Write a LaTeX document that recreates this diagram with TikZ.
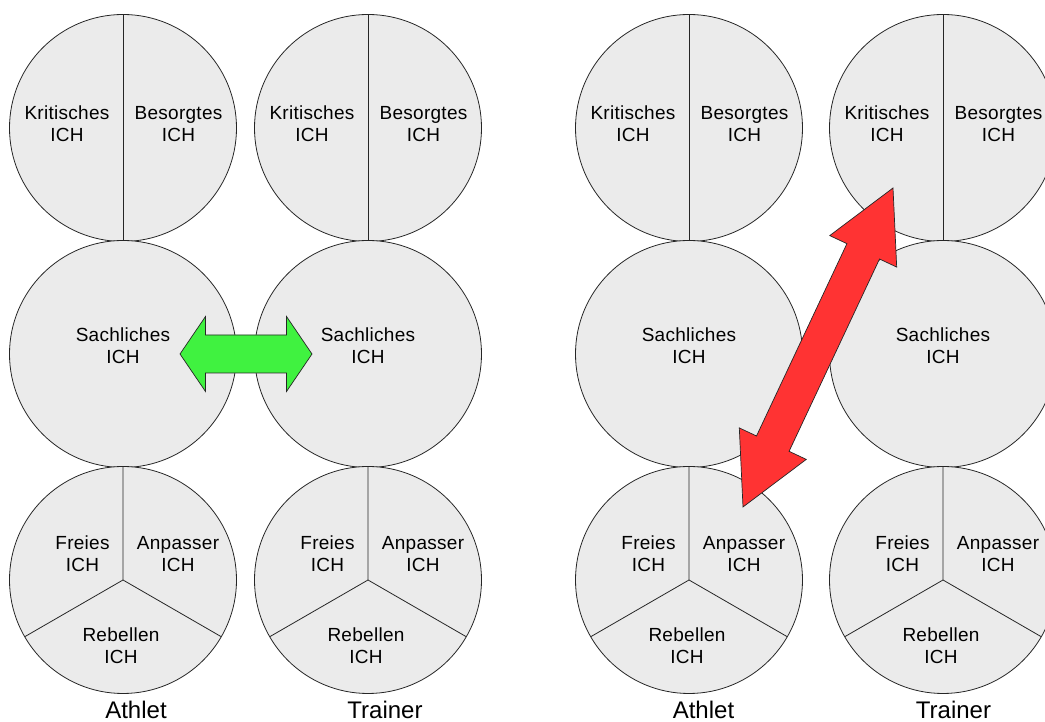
\documentclass[tikz,border=0pt]{standalone}
\usepackage{fontspec}
\setmainfont{Liberation Sans}
\usetikzlibrary{calc}
\definecolor{circfill}{RGB}{235,235,235}
\definecolor{greenarrow}{RGB}{64,242,64}
\definecolor{redarrow}{RGB}{255,51,51}
\newcommand{\blockarr}[6]{%
  \coordinate (ba-p) at ($(#2)!#4!(#3)$);
  \coordinate (ba-q) at ($(#3)!#4!(#2)$);
  \filldraw[#1] (#2) -- ($(ba-p)!#5!90:(#3)$) -- ($(ba-p)!#6!90:(#3)$)
    -- ($(ba-q)!#6!-90:(#2)$) -- ($(ba-q)!#5!-90:(#2)$) -- (#3)
    -- ($(ba-q)!#5!90:(#2)$) -- ($(ba-q)!#6!90:(#2)$)
    -- ($(ba-p)!#6!-90:(#3)$) -- ($(ba-p)!#5!-90:(#3)$) -- cycle;}
\begin{document}
\begin{tikzpicture}[x=1pt,y=1pt,
  ego/.style={circle, draw=black!85, line width=0.8pt, fill=circfill, minimum size=227pt, inner sep=0pt, outer sep=0pt},
  part/.style={draw=black!85, line width=0.8pt},
  lbl/.style={font=\fontsize{19}{22}\selectfont\addfontfeatures{LetterSpace=1.5}, align=center, inner sep=0pt, anchor=north},
  captxt/.style={font=\fontsize{24}{28}\selectfont, inner sep=0pt, anchor=base},
  blockarrow/.style={draw=black!85, line width=0.7pt, line join=miter}
]
\useasboundingbox (0,0) rectangle (1045,722);
\clip (0,0) rectangle (1045,722);

\foreach \cx/\n in {123/a, 368/b, 689/c, 943/d} {
  \node[ego] (\n T) at (\cx,594) {};
  \node[ego] (\n M) at (\cx,368) {};
  \node[ego] (\n B) at (\cx,142) {};
  \draw[part] (\n T.north) -- (\n T.south);
  \draw[part] (\n B.north) -- (\n B.center) -- (\n B.210);
  \draw[part] (\n B.center) -- (\n B.330);
  \node[lbl] (\n Tk) at ($(\n T.center)+(-56,22)$) {Kritisches\\ICH};
  \node[lbl] (\n Tb) at ($(\n T.center)+(55.5,22)$) {Besorgtes\\ICH};
  \node[lbl] (\n Ms) at ($(\n M.center)+(0,26)$) {Sachliches\\ICH};
  \node[lbl] (\n Bf) at ($(\n B.center)+(-40.5,44)$) {Freies\\ICH};
  \node[lbl] (\n Ba) at ($(\n B.center)+(55,44)$) {Anpasser\\ICH};
  \node[lbl] (\n Br) at ($(\n B.center)+(-2,-48)$) {Rebellen\\ICH};
}

\node[captxt] (capA1) at ($(aB.center)+(13,-139)$) {Athlet};
\node[captxt] (capT1) at ($(bB.center)+(17,-139)$) {Trainer};
\node[captxt] (capA2) at ($(cB.center)+(14.5,-139)$) {Athlet};
\node[captxt] (capT2) at ($(dB.center)+(10.5,-139)$) {Trainer};

% green double arrow between the two Sachliches ICH
\coordinate (g1) at ($(aM.center)+(57,0)$);
\coordinate (g2) at ($(bM.center)+(-56,0)$);
\blockarr{blockarrow, fill=greenarrow}{g1}{g2}{25.5pt}{37.5pt}{19pt}

% red double arrow between Athlet Anpasser ICH and Trainer Kritisches ICH
\coordinate (r1) at ($(cB.center)+(54,73)$);
\coordinate (r2) at ($(dT.center)+(-50,-60)$);
\blockarr{blockarrow, fill=redarrow}{r1}{r2}{70pt}{37pt}{18pt}
\end{tikzpicture}
\end{document}
